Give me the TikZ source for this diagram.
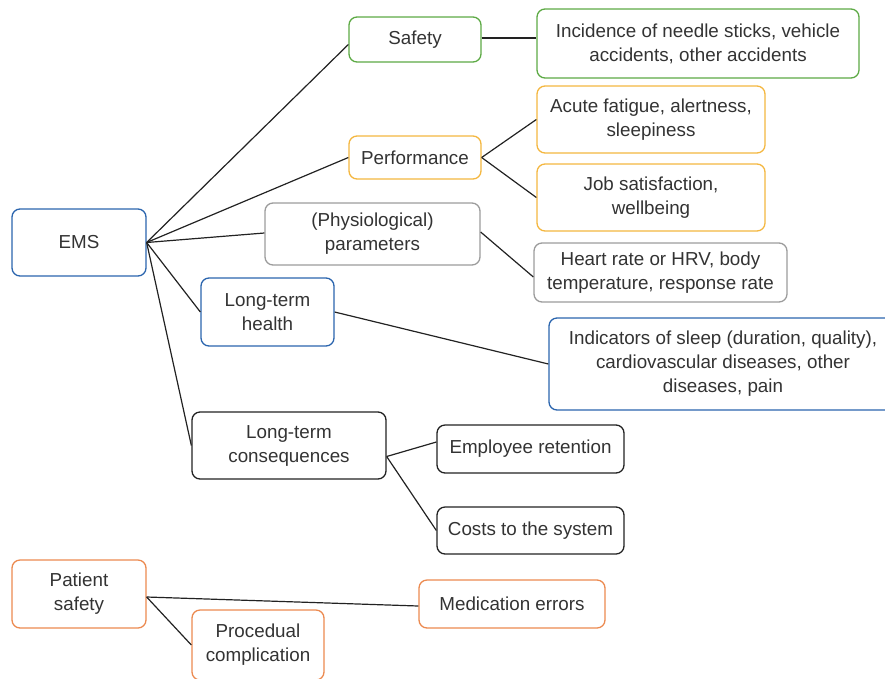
\documentclass[tikz,border=0pt]{standalone}
\usepackage{fontspec}
\setmainfont{Liberation Sans}
\definecolor{cblue}{HTML}{2B65AE}
\definecolor{cgreen}{HTML}{5DAA45}
\definecolor{cyellow}{HTML}{F4B740}
\definecolor{cgray}{HTML}{9C9C9C}
\definecolor{corange}{HTML}{EC8A50}
\definecolor{cblack}{HTML}{222222}
\definecolor{ctext}{HTML}{333333}
\begin{document}
\begin{tikzpicture}[x=1pt,y=-1pt,
  box/.style={draw, rounded corners=8pt, line width=1.3pt, fill=white, text=ctext,
    align=center, inner sep=0pt, font=\fontsize{18.8}{24}\selectfont},
  link/.style={draw=cblack, line width=1.2pt},
  bl/.style={box, draw=cblue}, gr/.style={box, draw=cgreen}, ye/.style={box, draw=cyellow},
  ga/.style={box, draw=cgray}, bk/.style={box, draw=cblack}, ora/.style={box, draw=corange}]
\useasboundingbox (0,0) rectangle (885,678);
\node[bl, minimum width=134pt, minimum height=67pt] (ems) at (79,242.5) {EMS};
\node[gr, minimum width=132pt, minimum height=45pt] (safety) at (415,39.5) {Safety};
\node[gr, minimum width=322pt, minimum height=69pt] (inc) at (698,43.5) {Incidence of needle sticks, vehicle\\accidents, other accidents};
\node[ye, minimum width=132pt, minimum height=43pt] (perf) at (415,157.5) {Performance};
\node[ye, minimum width=228pt, minimum height=67pt] (acute) at (651,119.5) {Acute fatigue, alertness,\\sleepiness};
\node[ye, minimum width=228pt, minimum height=67pt] (job) at (651,197.5) {Job satisfaction,\\wellbeing};
\node[ga, minimum width=215pt, minimum height=62pt] (phys) at (372.5,234) {(Physiological)\\parameters};
\node[ga, minimum width=253pt, minimum height=59pt] (heart) at (660.5,272.5) {Heart rate or HRV, body\\temperature, response rate};
\node[bl, minimum width=133pt, minimum height=68pt] (lth) at (267.5,312) {Long-term\\health};
\node[bl, minimum width=348pt, minimum height=92pt] (ind) at (723,364) {Indicators of sleep (duration, quality),\\cardiovascular diseases, other\\diseases, pain};
\node[bk, minimum width=194pt, minimum height=67pt] (ltc) at (289,445.5) {Long-term\\consequences};
\node[bk, minimum width=187pt, minimum height=48pt] (emp) at (530.5,449) {Employee retention};
\node[bk, minimum width=187pt, minimum height=47pt] (costs) at (530.5,530.5) {Costs to the system};
\node[ora, minimum width=134pt, minimum height=68pt] (ps) at (79,594) {Patient\\safety};
\node[ora, minimum width=186pt, minimum height=48pt] (med) at (512,604) {Medication errors};
\node[ora, minimum width=132pt, minimum height=70pt] (proc) at (258,645) {Procedual\\complication};
\draw[link] (ems.east) -- ([yshift=-5pt]safety.west);
\draw[link] (ems.east) -- (perf.west);
\draw[link] (ems.east) -- ([yshift=1pt]phys.west);
\draw[link] (ems.east) -- (lth.west);
\draw[link] (ems.east) -- (ltc.west);
\draw[link] ([yshift=1.5pt]safety.east) -- ([yshift=1.5pt]safety.east -| inc.west);
\draw[link] (perf.east) -- (acute.west);
\draw[link] (perf.east) -- (job.west);
\draw[link] ([yshift=2pt]phys.east) -- ([yshift=-4.5pt]heart.west);
\draw[link] (lth.east) -- (ind.west);
\draw[link] ([yshift=-11pt]ltc.east) -- ([yshift=7pt]emp.west);
\draw[link] ([yshift=-11pt]ltc.east) -- (costs.west);
\draw[link] ([yshift=-3pt]ps.east) -- ([yshift=-2pt]med.west);
\draw[link] ([yshift=-3pt]ps.east) -- (proc.west);
\end{tikzpicture}
\end{document}
